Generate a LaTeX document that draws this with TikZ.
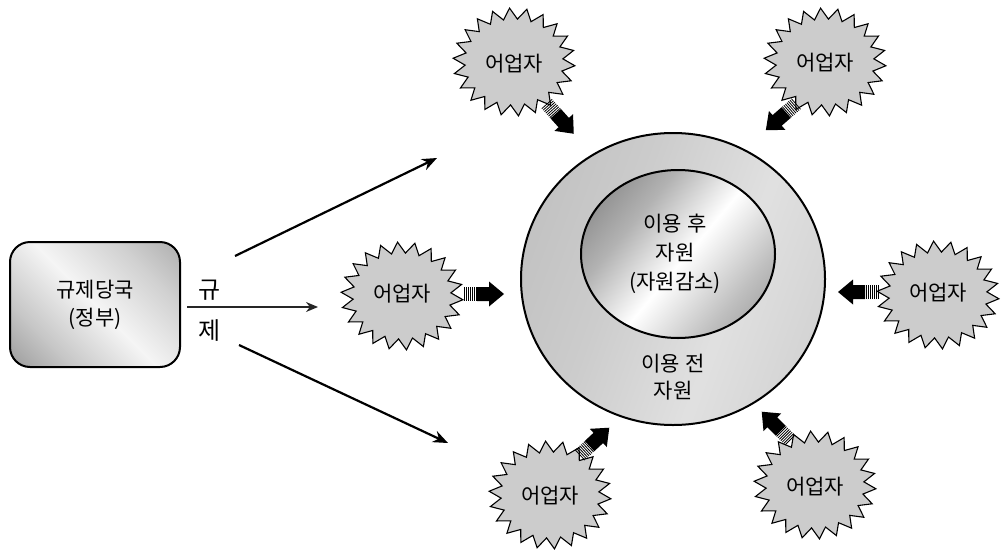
\documentclass[tikz,border=0pt]{standalone}
\usepackage{fontspec}
\setmainfont{Noto Sans CJK KR}
\usetikzlibrary{arrows.meta,shapes.geometric}
\pgfdeclarehorizontalshading{boxshade}{100bp}{color(0bp)=(black!55); color(30bp)=(black!22); color(50bp)=(black!4); color(70bp)=(black!18); color(100bp)=(black!45)}
\pgfdeclarehorizontalshading{innershade}{100bp}{color(0bp)=(black!70); color(35bp)=(black!30); color(52bp)=(white); color(70bp)=(black!25); color(100bp)=(black!60)}
\pgfdeclarehorizontalshading{outershade}{100bp}{color(0bp)=(black!30); color(40bp)=(black!20); color(60bp)=(black!12); color(100bp)=(black!25)}
\newcommand\burstshape[2]{\draw[burstline] plot[samples=45,domain=0:44,variable=\i] ({#1+(mod(\i,2)==0?61:49)*cos(\i*360/44+4)},{#2+(mod(\i,2)==0?54:43)*sin(\i*360/44+4)}) -- cycle;}
\tikzset{
  govbox/.style={draw, line width=2pt, rounded corners=20pt, minimum width=170pt, minimum height=125pt, shading=boxshade, shading angle=45, align=center},
  burstline/.style={draw, line width=1.1pt, fill=black!20},
  burstlabel/.style={font=\fontsize{21}{24}\selectfont},
  ringnode/.style={draw, ellipse, line width=2pt},
  reg/.style={-{Stealth[length=15pt,width=12pt]}, line width=2.2pt},
  regthin/.style={-{Stealth[length=12pt,width=10pt]}, line width=1.3pt, black!85},
  bigchar/.style={font=\fontsize{24}{28}\selectfont},
  pics/blockarrow/.style={code={
    \foreach \x in {0,2,4,6,8,10,12}{\draw[line width=0.8pt] (\x,-7) -- (\x,7);}
    \fill (13,-7) -- (25,-7) -- (25,-12.5) -- (40,0) -- (25,12.5) -- (25,7) -- (13,7) -- cycle;
  }}
}
\begin{document}
\begin{tikzpicture}[x=1pt,y=-1pt,font=\fontsize{21}{28}\selectfont]
\useasboundingbox (0,0) rectangle (1001,549);
% government box
\node[govbox] (gov) at (95,304.5) {규제당국\\(정부)};
\node[bigchar] (g1) at (210,290) {규};
\node[bigchar] (g2) at (210,331) {제};
% regulation arrows
\coordinate (u0) at (235,256); \coordinate (u1) at (437,158);
\coordinate (l0) at (239,345); \coordinate (l1) at (448,443);
\coordinate (m0) at (187,307); \coordinate (m1) at (318,307);
\draw[reg] (u0) -- (u1);
\draw[reg] (l0) -- (l1);
\draw[regthin] (m0) -- (m1);
% resource circles
\node[ringnode, minimum width=304pt, minimum height=292pt, shading=outershade, shading angle=-20] (outer) at (673,279) {};
\node[ringnode, minimum width=194pt, minimum height=168pt, shading=innershade, shading angle=-40] (inner) at (678,254) {};
\node[align=center, font=\fontsize{21}{29}\selectfont] (t1) at (675,254) {이용 후\\자원\\(자원감소)};
\node[align=center, font=\fontsize{21}{27}\selectfont] (t2) at (673,377) {이용 전\\자원};
% fishers
\burstshape{514}{62}   \node[burstlabel] (f1) at (514,64) {어업자};
\burstshape{825}{62}   \node[burstlabel] (f2) at (825,63) {어업자};
\burstshape{402}{296}  \node[burstlabel] (f3) at (402,294) {어업자};
\burstshape{938}{295}  \node[burstlabel] (f4) at (938,293) {어업자};
\burstshape{550}{495}  \node[burstlabel] (f5) at (550,496) {어업자};
\burstshape{815}{485}  \node[burstlabel] (f6) at (815,487) {어업자};
% block arrows
\pic[rotate=-48] at (547,104) {blockarrow};
\pic[rotate=-139] at (796,104) {blockarrow};
\pic[rotate=0] at (464,294) {blockarrow};
\pic[rotate=180] at (878,292) {blockarrow};
\pic[rotate=43] at (580,455) {blockarrow};
\pic[rotate=135] at (790,440) {blockarrow};
\end{tikzpicture}
\end{document}
